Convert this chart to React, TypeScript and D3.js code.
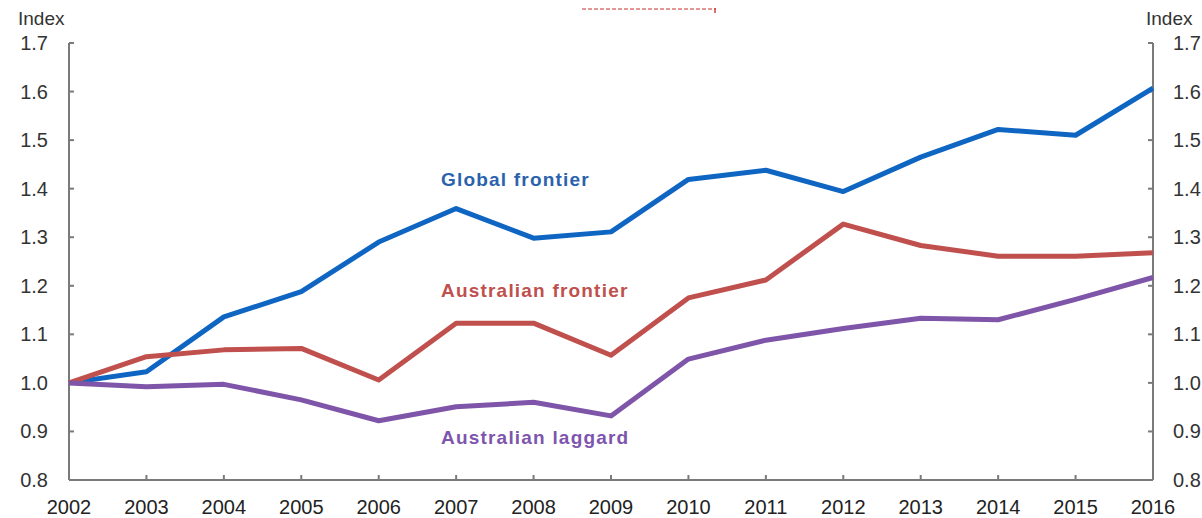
import React from "react";
import * as d3 from "d3";

const years = [2002, 2003, 2004, 2005, 2006, 2007, 2008, 2009, 2010, 2011, 2012, 2013, 2014, 2015, 2016];
const globalFrontier = [1.0, 1.023, 1.136, 1.188, 1.29, 1.359, 1.298, 1.311, 1.419, 1.438, 1.394, 1.465, 1.522, 1.51, 1.607];
const australianFrontier = [1.0, 1.054, 1.068, 1.071, 1.006, 1.123, 1.123, 1.057, 1.175, 1.212, 1.327, 1.283, 1.261, 1.261, 1.268];
const australianLaggard = [1.0, 0.992, 0.997, 0.965, 0.922, 0.951, 0.96, 0.932, 1.049, 1.088, 1.112, 1.133, 1.13, 1.172, 1.217];
const yTicks = [0.8, 0.9, 1.0, 1.1, 1.2, 1.3, 1.4, 1.5, 1.6, 1.7];

const series = [
  { name: "Global frontier", values: globalFrontier, color: "#0f66c2", text: "#2b62ad", lx: 441, ly: 179 },
  { name: "Australian frontier", values: australianFrontier, color: "#c0504d", text: "#c0504d", lx: 441, ly: 290 },
  { name: "Australian laggard", values: australianLaggard, color: "#7e55a8", text: "#7e55ae", lx: 441, ly: 437 },
];

const W = 1202;
const H = 518;
const left = 69;
const right = 1153;
const top = 43;
const bottom = 480;
const font = "Arial, 'Liberation Sans', sans-serif";

export default function App() {
  const x = d3.scaleLinear().domain([2002, 2016]).range([left, right]);
  const y = d3.scaleLinear().domain([0.8, 1.7]).range([bottom, top]);
  const line = d3
    .line<number>()
    .x((_, i) => x(years[i]))
    .y((d) => y(d));
  const axisColor = "#7a7a7a";
  return (
    <svg
      width={W}
      height={H}
      style={{ position: "absolute", left: 0, top: 0, background: "#fff" }}
    >
      {/* stray dashed artifact at top */}
      <line x1={582} x2={716} y1={9} y2={9} stroke="#c9302c" strokeWidth={1} strokeDasharray="4 2" />
      <line x1={715} x2={715} y1={8} y2={13} stroke="#d0403c" strokeWidth={1.5} />

      {/* axes */}
      <line x1={left} x2={left} y1={top} y2={bottom} stroke={axisColor} strokeWidth={2} />
      <line x1={right} x2={right} y1={top} y2={bottom} stroke={axisColor} strokeWidth={2} />
      <line x1={left} x2={right} y1={bottom} y2={bottom} stroke={axisColor} strokeWidth={2} />

      {yTicks.map((t) => (
        <g key={"yt" + t}>
          <line x1={left} x2={left + 5} y1={y(t)} y2={y(t)} stroke={axisColor} strokeWidth={2} />
          <line x1={right - 5} x2={right} y1={y(t)} y2={y(t)} stroke={axisColor} strokeWidth={2} />
          <text x={48} y={y(t) + 7} textAnchor="end" fontFamily={font} fontSize={20} fill="#333">
            {t.toFixed(1)}
          </text>
          <text x={1173} y={y(t) + 7} textAnchor="start" fontFamily={font} fontSize={20} fill="#333">
            {t.toFixed(1)}
          </text>
        </g>
      ))}

      {years.map((yr) => (
        <g key={"xt" + yr}>
          <line x1={x(yr)} x2={x(yr)} y1={bottom} y2={bottom - 5} stroke={axisColor} strokeWidth={2} />
          <text x={x(yr)} y={514} textAnchor="middle" fontFamily={font} fontSize={20} fill="#222">
            {yr}
          </text>
        </g>
      ))}

      <text x={18} y={25} fontFamily={font} fontSize={19} fill="#333">Index</text>
      <text x={1146} y={25} fontFamily={font} fontSize={19} fill="#333">Index</text>

      {series.map((s) => (
        <path
          key={s.name}
          d={line(s.values) || ""}
          fill="none"
          stroke={s.color}
          strokeWidth={5}
          strokeLinejoin="round"
        />
      ))}

      {series.map((s) => (
        <text
          key={"l" + s.name}
          x={s.lx}
          y={s.ly + 7}
          fontFamily={font}
          fontSize={19}
          fontWeight="bold"
          fill={s.text}
          letterSpacing={1.2}
        >
          {s.name}
        </text>
      ))}
    </svg>
  );
}
